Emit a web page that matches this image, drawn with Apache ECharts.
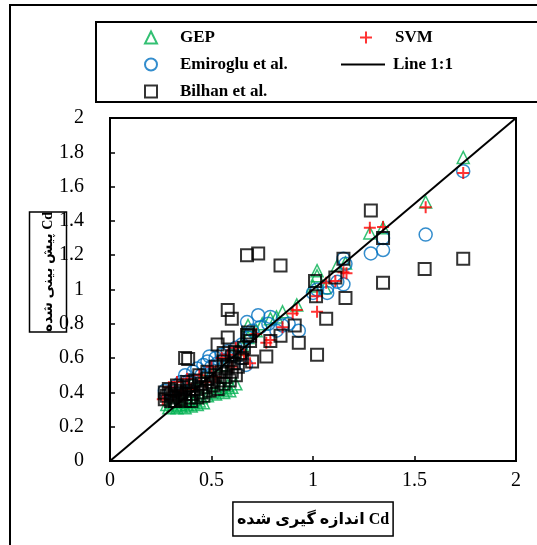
<!DOCTYPE html>
<html>
<head>
<meta charset="utf-8">
<script src="https://cdn.jsdelivr.net/npm/echarts@6/dist/echarts.min.js"></script>
<style>
  html, body { margin: 0; padding: 0; background: #fff; }
  #chart { width: 537px; height: 545px; }
</style>
</head>
<body>
<div id="chart"></div>
<script>
// Measured vs predicted discharge coefficient (Cd)
const xTicks = [0, 0.5, 1, 1.5, 2];
const yTicks = [0, 0.2, 0.4, 0.6, 0.8, 1, 1.2, 1.4, 1.6, 1.8, 2];

const xTitle = 'اندازه گیری شده Cd';
const yTitle = 'پیش بینی شده Cd';

const gepPoints = [
  [0.28,0.33],[0.29,0.31],[0.30,0.34],[0.31,0.32],[0.32,0.35],[0.33,0.31],[0.34,0.33],[0.35,0.32],
  [0.36,0.34],[0.37,0.31],[0.38,0.33],[0.39,0.35],[0.40,0.32],[0.41,0.34],[0.42,0.36],[0.43,0.33],
  [0.44,0.35],[0.45,0.37],[0.46,0.34],[0.48,0.38],[0.50,0.40],[0.52,0.39],[0.53,0.41],[0.55,0.43],
  [0.56,0.40],[0.57,0.42],[0.58,0.44],[0.59,0.41],[0.60,0.43],[0.62,0.45],
  [0.40,0.45],[0.45,0.48],[0.50,0.52],[0.55,0.56],[0.60,0.62],[0.63,0.65],[0.65,0.68],[0.68,0.72],
  [0.68,0.79],[0.72,0.76],[0.75,0.80],[0.79,0.83],[0.82,0.84],[0.85,0.87],[0.92,0.91],[1.00,1.02],
  [1.02,1.11],[1.02,1.08],[1.06,1.01],[1.12,1.14],[1.16,1.155],[1.28,1.33],[1.345,1.36],
  [1.555,1.51],[1.74,1.77]
];

const emirogluPoints = [
  [0.27,0.41],[0.30,0.40],[0.33,0.44],[0.35,0.46],[0.37,0.50],[0.39,0.47],[0.41,0.52],[0.43,0.54],
  [0.45,0.50],[0.46,0.56],[0.48,0.58],[0.49,0.61],[0.50,0.55],[0.52,0.60],[0.53,0.57],[0.55,0.62],
  [0.56,0.59],[0.58,0.64],[0.60,0.62],[0.62,0.66],[0.64,0.60],[0.65,0.68],[0.67,0.56],[0.68,0.72],
  [0.675,0.81],[0.70,0.76],[0.73,0.85],[0.74,0.78],[0.79,0.84],[0.78,0.80],[0.82,0.76],[0.85,0.79],
  [0.88,0.80],[0.93,0.76],[1.00,0.98],[1.02,1.00],[1.07,1.01],[1.07,0.98],[1.12,1.045],[1.15,1.03],
  [1.15,1.18],[1.16,1.15],[1.285,1.21],[1.345,1.23],[1.345,1.30],[1.555,1.32],[1.74,1.69]
];

const svmPoints = [
  [0.26,0.36],[0.29,0.43],[0.31,0.38],[0.33,0.46],[0.35,0.41],[0.38,0.48],[0.40,0.42],[0.44,0.50],
  [0.47,0.46],[0.50,0.55],[0.52,0.49],[0.55,0.60],[0.58,0.62],[0.60,0.55],[0.62,0.66],[0.66,0.62],
  [0.69,0.57],[0.72,0.74],[0.77,0.69],[0.79,0.705],[0.85,0.78],[0.90,0.86],[0.92,0.88],[1.02,0.87],
  [1.02,0.96],[1.065,1.04],[1.11,1.05],[1.15,1.10],[1.165,1.095],[1.28,1.36],[1.345,1.365],
  [1.555,1.48],[1.74,1.68]
];

const bilhanPoints = [
  [0.27,0.36],[0.27,0.40],[0.28,0.38],[0.29,0.42],[0.30,0.35],[0.30,0.39],[0.31,0.37],[0.32,0.41],
  [0.32,0.35],[0.33,0.44],[0.34,0.38],[0.35,0.36],[0.35,0.40],[0.36,0.43],[0.37,0.35],[0.37,0.39],
  [0.38,0.46],[0.39,0.37],[0.39,0.41],[0.40,0.35],[0.40,0.44],[0.41,0.39],[0.42,0.47],[0.43,0.37],
  [0.43,0.42],[0.44,0.50],[0.45,0.40],[0.45,0.45],[0.46,0.38],[0.47,0.43],[0.48,0.48],[0.48,0.52],
  [0.49,0.41],[0.50,0.46],[0.51,0.44],[0.52,0.50],[0.52,0.55],[0.53,0.42],[0.54,0.47],[0.55,0.52],
  [0.56,0.45],[0.56,0.58],[0.57,0.49],[0.58,0.55],[0.59,0.47],[0.60,0.52],[0.60,0.61],[0.61,0.57],
  [0.62,0.50],[0.63,0.55],[0.64,0.63],[0.65,0.60],[0.66,0.66],[0.69,0.70],[0.53,0.68],[0.58,0.72],
  [0.56,0.63],[0.615,0.635],[0.70,0.58],[0.385,0.595],[0.37,0.60],
  [0.58,0.88],[0.60,0.83],[0.675,0.735],[0.68,0.75],[0.69,0.73],[0.77,0.61],[0.79,0.70],[0.84,0.73],
  [0.91,0.79],[0.93,0.69],[0.675,1.20],[0.73,1.21],[0.84,1.14],[1.01,1.05],[1.015,0.96],[1.02,0.62],
  [1.065,0.83],[1.11,1.07],[1.15,1.18],[1.16,0.95],[1.285,1.46],[1.345,1.30],[1.345,1.04],
  [1.55,1.12],[1.74,1.18]
];

const identityLine = [[0, 0], [2, 2]];

const serif = '"Liberation Serif", "Times New Roman", "DejaVu Sans", serif';
const crossPath = 'path://M0,5L10,5M5,0L5,10';

const chart = echarts.init(document.getElementById('chart'), null, { renderer: 'canvas' });

const legendText = { fontFamily: serif, fontWeight: 'bold', fontSize: 17, color: '#000', padding: [0, 0, 0, 18] };
function legendAt(name, left, top, extra) {
  return Object.assign({
    data: [name], left: left, top: top, orient: 'horizontal',
    itemWidth: 12, itemHeight: 12, padding: 0,
    selectedMode: false, textStyle: legendText
  }, extra || {});
}

chart.setOption({
  animation: false,
  backgroundColor: '#fff',
  grid: {
    left: 110, top: 118, right: 21, bottom: 84,
    show: true, borderColor: '#000', borderWidth: 2, backgroundColor: 'transparent'
  },
  graphic: [
    { type: 'rect', shape: { x: 10, y: 5, width: 560, height: 560 }, style: { fill: 'none', stroke: '#000', lineWidth: 2 }, silent: true },
    { type: 'rect', shape: { x: 96, y: 22, width: 470, height: 80 }, style: { fill: 'none', stroke: '#000', lineWidth: 2 }, silent: true },
    {
      type: 'text', x: 48, y: 272, rotation: Math.PI / 2, silent: true,
      style: {
        text: yTitle, fontFamily: serif, fontWeight: 'bold', fontSize: 14, fill: '#000',
        align: 'center', verticalAlign: 'middle',
        borderColor: '#000', borderWidth: 1.5, padding: [12, 0, 11, 0]
      }
    }
  ],
  legend: [
    legendAt('GEP', 144, 29),
    legendAt('SVM', 359, 29),
    legendAt('Emiroglu et al.', 144, 56),
    { data: [{ name: 'Line 1:1', icon: 'rect' }], left: 341, top: 56, itemWidth: 44, itemHeight: 2, padding: 0,
      selectedMode: false, textStyle: Object.assign({}, legendText, { padding: [0, 0, 0, 3] }) },
    legendAt('Bilhan et al.', 144, 83)
  ],
  xAxis: {
    type: 'value', min: 0, max: 2, interval: 0.5,
    axisLine: { show: true, lineStyle: { color: '#000', width: 2 } },
    axisTick: { show: true, inside: true, length: 5, lineStyle: { color: '#000', width: 1.5 } },
    splitLine: { show: false },
    axisLabel: { margin: 10, fontFamily: serif, fontSize: 20, color: '#000',
      formatter: v => xTicks.includes(v) ? String(v) : '' },
    name: xTitle,
    nameLocation: 'middle', nameGap: 41,
    nameTextStyle: { fontFamily: serif, fontWeight: 'bold', fontSize: 16, color: '#000',
      borderColor: '#000', borderWidth: 1.5, padding: [10, 4, 8, 4], verticalAlign: 'top' }
  },
  yAxis: {
    type: 'value', min: 0, max: 2, interval: 0.2,
    axisLine: { show: true, lineStyle: { color: '#000', width: 2 } },
    axisTick: { show: true, inside: true, length: 5, lineStyle: { color: '#000', width: 1.5 } },
    splitLine: { show: false },
    axisLabel: { margin: 26, fontFamily: serif, fontSize: 20, color: '#000',
      formatter: v => { const t = yTicks.find(k => Math.abs(k - v) < 1e-9); return t === undefined ? '' : String(t); } }
  },
  series: [
    {
      name: 'GEP', type: 'scatter', data: gepPoints, symbol: 'triangle', symbolSize: 12,
      itemStyle: { color: 'transparent', borderColor: '#00B050', borderWidth: 1.5 }
    },
    {
      name: 'Emiroglu et al.', type: 'scatter', data: emirogluPoints, symbol: 'circle', symbolSize: 13,
      itemStyle: { color: 'transparent', borderColor: '#0070C0', borderWidth: 1.5 }
    },
    {
      name: 'SVM', type: 'scatter', data: svmPoints, symbol: crossPath, symbolSize: 12,
      itemStyle: { color: 'transparent', borderColor: '#FF0000', borderWidth: 2 }
    },
    {
      name: 'Line 1:1', type: 'line', data: identityLine, symbol: 'none',
      lineStyle: { color: '#000', width: 2 }, itemStyle: { color: '#000' }
    },
    {
      name: 'Bilhan et al.', type: 'scatter', data: bilhanPoints, symbol: 'rect', symbolSize: 12,
      itemStyle: { color: 'transparent', borderColor: '#000', borderWidth: 2 }
    }
  ]
});
</script>
</body>
</html>
